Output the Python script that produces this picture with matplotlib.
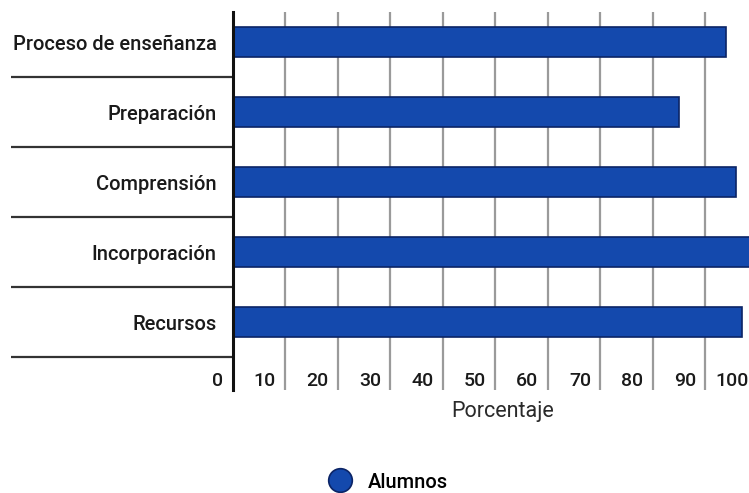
import matplotlib
matplotlib.use("Agg")
import matplotlib.pyplot as plt
from matplotlib.lines import Line2D
from matplotlib.transforms import ScaledTranslation

categories = ["Proceso de enseñanza", "Preparación", "Comprensión", "Incorporación", "Recursos"]
alumnos = [94, 85, 96, 100, 97]
tick_values = [0, 10, 20, 30, 40, 50, 60, 70, 80, 90, 100]
tick_labels = ["0", "10", "20", "30", "40", "50", "60", "70", "80", "90", "100"]
series_name = "Alumnos"
x_title = "Porcentaje"

W, H, DPI = 749, 493, 100
fig = plt.figure(figsize=(W / DPI, H / DPI), dpi=DPI)
plt.rcParams["font.family"] = ["Roboto", "DejaVu Sans"]

# plot area in pixels; the 0-100 range runs slightly past the right edge
left_px, right_px, top_px, bottom_px = 232.5, 757.5, 12, 390
ax = fig.add_axes([left_px / W, 1 - bottom_px / H, (right_px - left_px) / W, (bottom_px - top_px) / H])

bar_color = "#1449ad"
edge_color = "#0b2466"
y = list(range(len(categories)))
ax.barh(y, alumnos, height=0.43, color=bar_color, edgecolor=edge_color, linewidth=1.2, zorder=3)

# vertical grid
for v in tick_values[1:]:
    ax.axvline(v, color="#9a9a9a", linewidth=1.6, zorder=1)

for s in ["top", "right", "bottom"]:
    ax.spines[s].set_visible(False)
ax.spines["left"].set_color("#111111")
ax.spines["left"].set_linewidth(2.2)
ax.spines["left"].set_zorder(4)

# x tick labels sit just left of each grid line, inside the plot area
ax.set_xticks(tick_values, tick_labels)
ax.tick_params(axis="x", length=0, pad=-3, labelsize=14, labelcolor="#1a1a1a")
for lab in ax.get_xticklabels():
    lab.set_horizontalalignment("right")
    lab.set_verticalalignment("baseline")
    lab.set_fontweight("medium")
    lab.set_transform(lab.get_transform() + ScaledTranslation(-9 / DPI, 0, fig.dpi_scale_trans))

# category labels with separator lines drawn as long minor ticks
ax.set_yticks(y, categories)
ax.tick_params(axis="y", which="major", length=0, pad=11.5, labelsize=14.5, labelcolor="#1a1a1a")
for lab in ax.get_yticklabels():
    lab.set_fontweight("medium")
ax.set_yticks([i + 0.5 for i in y], minor=True)
ax.tick_params(axis="y", which="minor", length=(left_px - 10) * 72 / DPI, width=1.6,
               color="#333333", direction="out")

ax.set_xlim(0, 100)
ax.set_ylim((bottom_px - 42) / 70, (top_px - 42) / 70)

ax.set_xlabel(x_title, fontsize=15.5, color="#2a2a2a")
ax.xaxis.set_label_coords((503 - left_px) / (right_px - left_px), -(411 - bottom_px) / (bottom_px - top_px))
ax.xaxis.label.set_verticalalignment("center")

handle = Line2D([], [], marker="o", linestyle="none", markersize=17,
                markerfacecolor=bar_color, markeredgecolor=edge_color, markeredgewidth=1.2)
fig.legend([handle], [series_name], loc="center", bbox_to_anchor=(384 / W, 1 - 482 / H),
           frameon=False, handletextpad=0.35,
           prop={"family": ["Roboto", "DejaVu Sans"], "weight": "medium", "size": 14.5})

fig.savefig("out.png", dpi=DPI, facecolor="white")
